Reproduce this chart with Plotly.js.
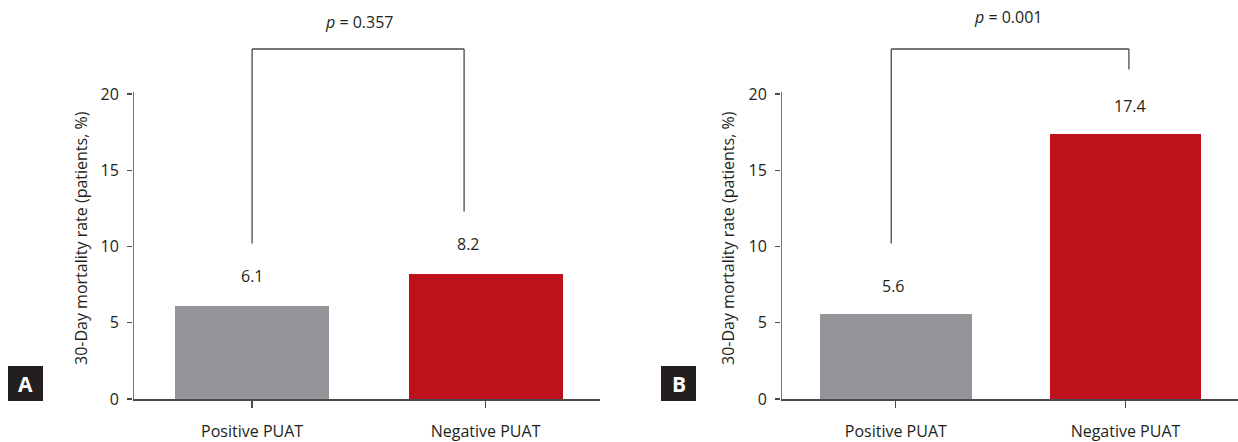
<!DOCTYPE html>
<html>
<head>
<meta charset="utf-8">
<script src="https://cdn.plot.ly/plotly-3.0.1.min.js"></script>
<style>html,body{margin:0;padding:0;background:#fff;}#chart{width:1238px;height:442px;}</style>
</head>
<body>
<div id="chart"></div>
<script>
// ---- data ----
const categories = ["Positive PUAT", "Negative PUAT"];
const valuesA = [6.1, 8.2];
const valuesB = [5.6, 17.4];
const labelsA = ["6.1", "8.2"];
const labelsB = ["5.6", "17.4"];
const pTextA = "<i>p</i> = 0.357";
const pTextB = "<i>p</i> = 0.001";
const panelLetters = ["A", "B"];
const yTitle = "30-Day mortality rate (patients, %)";
const yTicks = [0, 5, 10, 15, 20];
const barColors = ["#939598", "#bd111b"];

// ---- layout ----
const W = 1238, H = 442;
const TXT = "#231f20";
const AX = "#4a4a4a";
const FONT = "Open Sans, Noto Sans, sans-serif";
const yBottomPx = 399, pxPerUnit = 15.25, yMax = 26;
const yDomain = [(H - yBottomPx) / H, (H - (yBottomPx - yMax * pxPerUnit)) / H];

function px(x) { return x / W; }

const traces = [
  {type: "bar", x: categories, y: valuesA, xaxis: "x", yaxis: "y",
   marker: {color: barColors}, width: 0.66, hoverinfo: "skip"},
  {type: "bar", x: categories, y: valuesB, xaxis: "x2", yaxis: "y2",
   marker: {color: barColors}, width: 0.66, hoverinfo: "skip"}
];

function xAx(domain, range) {
  return {domain: domain, range: range, type: "category",
    showline: true, linecolor: AX, linewidth: 1.5, mirror: false,
    ticks: "outside", ticklen: 7, tickwidth: 1.3, tickcolor: AX,
    ticklabelstandoff: 10,
    tickfont: {family: FONT, size: 16, color: TXT},
    showgrid: false, zeroline: false, fixedrange: true, automargin: false};
}
function yAx(anchor) {
  return {domain: yDomain, range: [0, yMax], anchor: anchor,
    showline: false, tickmode: "array", tickvals: yTicks, ticktext: yTicks.map(String),
    ticks: "outside", ticklen: 5, tickwidth: 1.3, tickcolor: AX,
    ticklabelstandoff: 5,
    tickfont: {family: FONT, size: 16, color: TXT},
    showgrid: false, zeroline: false, fixedrange: true, automargin: false};
}

const shapes = [];
const annotations = [];

function line(xr, yr, x0, y0, x1, y1, w) {
  shapes.push({type: "line", xref: xr, yref: yr, x0: x0, y0: y0, x1: x1, y1: y1,
    line: {color: AX, width: w || 1.3}});
}

// y axis lines (stop slightly above 20)
line("x", "y", -0.51, 0, -0.51, 20.15, 1.5);
line("x2", "y2", -0.5, 0, -0.5, 20.15, 1.5);

// brackets
line("x", "y", 0, 10.2, 0, 22.95);
line("x", "y", 0, 22.95, 0.908, 22.95);
line("x", "y", 0.908, 22.95, 0.908, 12.3);
line("x2", "y2", -0.02, 10.2, -0.02, 22.95);
line("x2", "y2", -0.02, 22.95, 1.015, 22.95);
line("x2", "y2", 1.015, 22.95, 1.015, 21.6);

// p-values
annotations.push({xref: "x", yref: "y", x: 0.46, y: 24.7, text: pTextA, showarrow: false,
  font: {family: FONT, size: 16, color: TXT}});
annotations.push({xref: "x2", yref: "y2", x: 0.49, y: 25.05, text: pTextB, showarrow: false,
  font: {family: FONT, size: 16, color: TXT}});

// value labels
const shiftsA = [0, -17], shiftsB = [-2, 5];
categories.forEach((c, i) => {
  annotations.push({xref: "x", yref: "y", x: c, y: valuesA[i], yshift: 30, xshift: shiftsA[i],
    text: labelsA[i], showarrow: false, font: {family: FONT, size: 16, color: TXT}});
  annotations.push({xref: "x2", yref: "y2", x: c, y: valuesB[i], yshift: 28, xshift: shiftsB[i],
    text: labelsB[i], showarrow: false, font: {family: FONT, size: 16, color: TXT}});
});

// y titles
annotations.push({xref: "paper", yref: "paper", x: px(81), y: (H - 238) / H, text: yTitle,
  textangle: -90, showarrow: false, xanchor: "center", yanchor: "middle",
  font: {family: FONT, size: 16, color: TXT}});
annotations.push({xref: "paper", yref: "paper", x: px(728), y: (H - 238) / H, text: yTitle,
  textangle: -90, showarrow: false, xanchor: "center", yanchor: "middle",
  font: {family: FONT, size: 16, color: TXT}});

// panel letters
const letterBoxes = [[8, 43], [661, 696]];
letterBoxes.forEach((b, i) => {
  shapes.push({type: "rect", xref: "paper", yref: "paper", x0: px(b[0]), x1: px(b[1]),
    y0: (H - 401) / H, y1: (H - 366) / H, fillcolor: "#231f20", line: {width: 0}, layer: "above"});
  annotations.push({xref: "paper", yref: "paper", x: px((b[0] + b[1]) / 2), y: (H - 383.5) / H,
    text: "<b>" + panelLetters[i] + "</b>", showarrow: false, xanchor: "center", yanchor: "middle",
    font: {family: FONT, size: 21, color: "#ffffff"}});
});

const layout = {
  width: W, height: H,
  margin: {l: 0, r: 0, t: 0, b: 0},
  paper_bgcolor: "#ffffff", plot_bgcolor: "#ffffff",
  showlegend: false,
  xaxis: xAx([px(133), px(600)], [-0.51, 1.49]),
  yaxis: yAx("x"),
  xaxis2: xAx([px(781), 1], [-0.5, 1.49]),
  yaxis2: yAx("x2"),
  shapes: shapes,
  annotations: annotations,
  bargap: 0
};
layout.xaxis.anchor = "y";
layout.xaxis2.anchor = "y2";

Plotly.newPlot("chart", traces, layout, {staticPlot: true, displayModeBar: false});
</script>
</body>
</html>
